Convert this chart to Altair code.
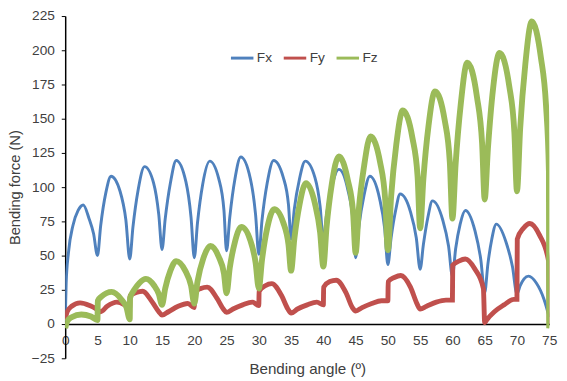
import altair as alt
import pandas as pd

series_names = ["Fx", "Fy", "Fz"]
series_colors = ["#4F81BD", "#C0504D", "#9BBB59"]

fx_x = [0, 0.15, 0.5, 1.2, 2.0, 2.8, 3.7, 4.4, 5.0,
        5.5, 6.3, 7.1, 8.5, 9.4, 10.0,
        10.5, 11.3, 12.3, 13.7, 14.5, 15.0,
        15.5, 16.3, 17.2, 18.7, 19.5, 20.0,
        20.5, 21.3, 22.4, 23.8, 24.6, 25.0,
        25.5, 26.3, 27.2, 28.7, 29.5, 30.0,
        30.5, 31.3, 32.3, 33.8, 34.6, 35.0,
        35.5, 36.3, 37.2, 38.7, 39.5, 40.0,
        40.5, 41.3, 42.4, 43.8, 44.6, 45.0,
        45.5, 46.3, 47.2, 48.7, 49.5, 50.0,
        50.5, 51.2, 51.9, 53.5, 54.4, 55.0,
        55.5, 56.2, 56.9, 58.5, 59.4, 60.0,
        60.5, 61.2, 62.0, 63.5, 64.4, 65.0,
        65.5, 66.1, 66.8, 68.3, 69.3, 70.0,
        70.5, 71.1, 71.8, 73.0, 74.2, 75.0]
fx_y = [2, 30, 52, 72, 83, 87, 77, 66, 50,
        72, 96, 108, 97, 76, 47.5,
        71, 98, 115, 103, 80, 54.5,
        77, 103, 119.5, 104, 78, 48.5,
        74, 102, 119, 106, 83, 53.5,
        78, 106, 122, 106, 80, 51,
        76, 103, 119.5, 107, 87, 62,
        84, 106, 119, 107, 86, 61,
        80, 100, 113, 98, 75, 48.5,
        71, 94, 108, 92, 70, 43.5,
        63, 83, 95, 82, 63, 40,
        58, 78, 90, 76, 57, 35,
        55, 73, 83, 68, 47, 23,
        44, 62, 73, 60, 42, 22,
        28, 33, 35, 30, 18, 5]

fy_x = [0, 0.3, 1.0, 2.3, 3.8, 5.0,
        5.5, 6.5, 8.0, 9.2, 10.0,
        10.05, 11, 12, 13.5, 14.5, 15.0,
        16, 17.5, 19, 20,
        20.05, 21, 22, 23.5, 24.5, 25,
        26, 27.5, 29, 30,
        30.05, 31, 32, 33.5, 34.5, 35,
        36, 37.5, 39, 40,
        40.05, 41, 42, 43.5, 44.5, 45,
        46, 47.5, 49, 50,
        50.05, 51, 52, 53.5, 54.5, 55,
        56, 57.5, 59, 60,
        60.05, 61, 62, 63.5, 64.8, 65.0,
        65.3, 66.5, 68, 69.5, 70,
        70.05, 71, 72, 73.5, 74.9, 75]
fy_y = [3, 9, 13, 15.5, 13.5, 10.5,
        9, 13, 16, 14, 11.5,
        20.5, 23, 24, 16, 9, 6.5,
        9, 13, 15, 12,
        23, 26, 27, 19, 11, 8.5,
        11, 14, 16, 13.5,
        24, 28, 29.5, 21, 11, 8,
        11, 14, 16, 14,
        27, 31, 32, 23, 12, 9.5,
        12, 15, 17, 17,
        31, 34, 35.5, 27, 15, 11,
        13, 16, 17.5, 17.5,
        43, 46, 47.5, 40, 26, 1,
        3, 9, 14, 18, 18,
        62, 70, 73.5, 65, 46, 0]

fz_x = [0, 0.3, 1.0, 2.5, 4.0, 5.0,
        5.05, 5.6, 7.2, 8.7, 9.5, 10.0,
        10.05, 10.7, 11.5, 12.5, 13.8, 14.5, 15.0,
        15.5, 16.3, 17.2, 18.6, 19.5, 20.0,
        20.5, 21.4, 22.5, 23.8, 24.6, 25.0,
        25.5, 26.3, 27.3, 28.7, 29.5, 30.0,
        30.5, 31.3, 32.4, 33.8, 34.6, 35.0,
        35.5, 36.3, 37.3, 38.7, 39.5, 40.0,
        40.5, 41.3, 42.4, 43.8, 44.6, 45.0,
        45.5, 46.3, 47.3, 48.8, 49.6, 50.0,
        50.5, 51.3, 52.3, 53.8, 54.6, 55.0,
        55.5, 56.3, 57.3, 58.8, 59.6, 60.0,
        60.5, 61.3, 62.3, 63.8, 64.6, 65.0,
        65.5, 66.3, 67.3, 68.8, 69.6, 70.0,
        70.5, 71.3, 72.3, 73.7, 74.5, 74.95, 75.0]
fz_y = [-3, 2, 5, 7, 5.5, 3,
        17, 20, 23.5, 18, 12, 3.5,
        19, 25, 30, 33, 28, 22, 14,
        26, 39, 46, 39, 28, 15,
        31, 48, 57, 49, 37, 22.5,
        41, 60, 71, 61, 45, 26,
        47, 70, 84, 74, 58, 39,
        62, 87, 103, 88, 67, 42,
        71, 102, 122.5, 105, 82, 52,
        84, 115, 137, 118, 90, 54,
        93, 131, 156, 136, 108, 70,
        106, 145, 170, 149, 118, 77,
        117, 161, 191, 166, 132, 91,
        128, 172, 198, 174, 140, 97,
        143, 190, 221, 195, 160, 112, -3]

x_ticks = [0, 5, 10, 15, 20, 25, 30, 35, 40, 45, 50, 55, 60, 65, 70, 75]
y_ticks = [-25, 0, 25, 50, 75, 100, 125, 150, 175, 200, 225]

frames = []
for name, xs, ys in [("Fx", fx_x, fx_y), ("Fy", fy_x, fy_y), ("Fz", fz_x, fz_y)]:
    frames.append(pd.DataFrame({"x": xs, "y": ys, "series": name}))
df = pd.concat(frames, ignore_index=True)

FONT = "Liberation Sans"
TXT = "#404040"

x_enc = alt.X("x:Q",
              scale=alt.Scale(domain=[0, 75], nice=False, zero=False),
              axis=alt.Axis(values=x_ticks, title="Bending angle (º)", offset=-35,
                            ticks=False, labelPadding=10, titlePadding=15,
                            domainColor="black", domainWidth=1.5, grid=False,
                            labelFontSize=14, titleFontSize=15.5, labelFlush=False,
                            labelOverlap=False))
y_enc = alt.Y("y:Q",
              scale=alt.Scale(domain=[-25, 225], nice=False, zero=False),
              axis=alt.Axis(values=y_ticks, title="Bending force (N)",
                            tickSize=4, tickColor="black", tickWidth=1,
                            labelPadding=7, titlePadding=9,
                            domainColor="black", domainWidth=1.5, grid=False,
                            labelFontSize=14, titleFontSize=15, labelOverlap=False))

base = alt.Chart(df).mark_line(interpolate="monotone", clip=True, strokeWidth=3).encode(
    x=x_enc,
    y=y_enc,
    color=alt.Color("series:N",
                    scale=alt.Scale(domain=series_names, range=series_colors),
                    legend=alt.Legend(title=None, orient="none", legendX=168, legendY=30,
                                      direction="horizontal", symbolType="stroke",
                                      symbolSize=529, symbolStrokeWidth=3,
                                      labelFontSize=14, labelOffset=2, columnPadding=5,
                                      padding=0, labelFont=FONT, labelColor=TXT)),
)

thick_fy = alt.Chart(df).transform_filter(alt.datum.series == "Fy").mark_line(
    interpolate="monotone", clip=True, strokeWidth=5, color=series_colors[1]
).encode(x=x_enc, y=y_enc)

thick_fz = alt.Chart(df).transform_filter(alt.datum.series == "Fz").mark_line(
    interpolate="monotone", clip=True, strokeWidth=6, color=series_colors[2]
).encode(x=x_enc, y=y_enc)

chart = alt.layer(base, thick_fy, thick_fz).properties(
    width=495, height=350,
    autosize=alt.AutoSizeParams(type="none"),
    padding={"left": 58.5, "top": 4, "right": 10, "bottom": 19},
).configure_view(stroke=None).configure_axis(
    labelFont=FONT, titleFont=FONT, labelColor=TXT, titleColor=TXT,
    titleFontWeight="normal"
)

chart.save("out.html", embed_options={"renderer": "svg", "actions": False})
